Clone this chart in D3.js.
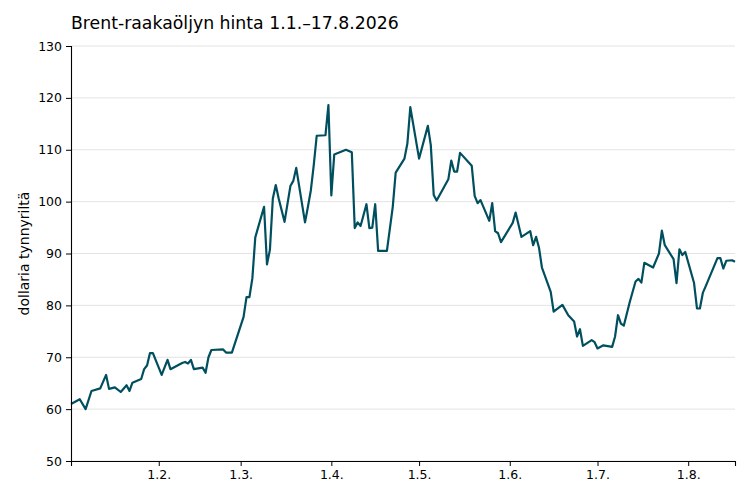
<!DOCTYPE html>
<html>
<head>
<meta charset="utf-8">
<script src="https://cdn.jsdelivr.net/npm/d3@7"></script>
<style>
  body { margin: 0; background: #fff; }
  svg { font-family: "DejaVu Sans", sans-serif; }
</style>
</head>
<body>
<div id="container"></div>
<script>
/* DATA */
const title = "Brent-raakaöljyn hinta 1.1.–17.8.2026";
const yLabel = "dollaria tynnyriltä";

const dates = [
  "2026-01-02","2026-01-05","2026-01-07","2026-01-09","2026-01-12","2026-01-14","2026-01-15","2026-01-17",
  "2026-01-19","2026-01-21","2026-01-22","2026-01-23","2026-01-26","2026-01-27","2026-01-28","2026-01-29",
  "2026-01-30","2026-02-02","2026-02-04","2026-02-05","2026-02-09","2026-02-10","2026-02-11","2026-02-12",
  "2026-02-13","2026-02-16","2026-02-17","2026-02-18","2026-02-19","2026-02-23","2026-02-24","2026-02-26",
  "2026-03-02","2026-03-03","2026-03-04","2026-03-05","2026-03-06","2026-03-09","2026-03-10","2026-03-11",
  "2026-03-12","2026-03-13","2026-03-14","2026-03-16","2026-03-18","2026-03-19","2026-03-20","2026-03-23",
  "2026-03-24","2026-03-25","2026-03-26","2026-03-27","2026-03-30","2026-03-31","2026-04-01","2026-04-02",
  "2026-04-06","2026-04-08","2026-04-09","2026-04-10","2026-04-11","2026-04-13","2026-04-14","2026-04-15",
  "2026-04-16","2026-04-17","2026-04-20","2026-04-22","2026-04-23","2026-04-26","2026-04-27","2026-04-28",
  "2026-05-01","2026-05-04","2026-05-05","2026-05-06","2026-05-07","2026-05-11","2026-05-12","2026-05-13",
  "2026-05-14","2026-05-15","2026-05-19","2026-05-20","2026-05-21","2026-05-22","2026-05-25","2026-05-26",
  "2026-05-27","2026-05-28","2026-05-29","2026-06-02","2026-06-03","2026-06-05","2026-06-08","2026-06-09",
  "2026-06-10","2026-06-11","2026-06-12","2026-06-15","2026-06-16","2026-06-19","2026-06-21","2026-06-23",
  "2026-06-24","2026-06-25","2026-06-26","2026-06-29","2026-06-30","2026-07-01","2026-07-03","2026-07-06",
  "2026-07-07","2026-07-08","2026-07-09","2026-07-10","2026-07-12","2026-07-14","2026-07-15","2026-07-16",
  "2026-07-17","2026-07-20","2026-07-22","2026-07-23","2026-07-24","2026-07-27","2026-07-28","2026-07-29",
  "2026-07-30","2026-07-31","2026-08-03","2026-08-04","2026-08-05","2026-08-06","2026-08-07","2026-08-11",
  "2026-08-12","2026-08-13","2026-08-14","2026-08-16","2026-08-17"
];

const prices = [
  61.0, 61.9, 60.0, 63.5, 64.0, 66.6, 63.9, 64.2,
  63.3, 64.6, 63.5, 65.1, 65.8, 67.7, 68.4, 70.8,
  70.8, 66.6, 69.5, 67.7, 68.9, 69.1, 68.8, 69.5,
  67.7, 68.0, 67.0, 70.0, 71.4, 71.5, 70.9, 70.9,
  77.8, 81.6, 81.6, 85.2, 93.1, 99.0, 87.9, 90.7,
  100.6, 103.2, 100.6, 96.1, 103.0, 104.0, 106.5, 96.0,
  99.0, 102.2, 107.1, 112.7, 112.8, 118.6, 101.2, 109.1,
  110.0, 109.5, 94.9, 96.0, 95.3, 99.5, 94.9, 95.0,
  99.5, 90.5, 90.5, 99.0, 105.6, 108.3, 111.2, 118.2,
  108.3, 114.6, 110.9, 101.3, 100.2, 104.3, 107.9, 105.8,
  105.8, 109.4, 106.9, 101.1, 99.7, 100.3, 96.3, 99.7,
  94.3, 93.9, 92.2, 95.9, 97.9, 93.2, 94.3, 91.6,
  93.2, 91.1, 87.3, 82.6, 78.8, 80.1, 78.1, 76.9,
  74.0, 75.4, 72.2, 73.3, 72.9, 71.7, 72.3, 72.0,
  74.0, 78.1, 76.5, 76.1, 80.6, 84.6, 85.1, 84.4,
  88.2, 87.3, 90.0, 94.4, 91.6, 88.9, 84.3, 90.8,
  89.7, 90.3, 84.3, 79.4, 79.4, 82.4, 83.7, 89.1,
  89.1, 87.1, 88.6, 88.7, 88.4
];

const xTickDates = ["2026-02-01","2026-03-01","2026-04-01","2026-05-01","2026-06-01","2026-07-01","2026-08-01"];
const xTickLabels = ["1.2.","1.3.","1.4.","1.5.","1.6.","1.7.","1.8."];
const yTicks = [50, 60, 70, 80, 90, 100, 110, 120, 130];

/* CONSTANTS */
const W = 750, H = 500;
const margin = { top: 46, right: 15, bottom: 39, left: 71 };
const width = W - margin.left - margin.right;
const height = H - margin.top - margin.bottom;

const parse = d3.timeParse("%Y-%m-%d");
const data = dates.map((d, i) => ({ date: parse(d), price: prices[i] }));

// scales
const xScale = d3.scaleTime()
  .domain(d3.extent(data, d => d.date))
  .range([0, width]);

const yScale = d3.scaleLinear()
  .domain([50, 130])
  .range([height, 0]);

const svg = d3.select("#container")
  .append("svg")
  .attr("width", W)
  .attr("height", H);

const g = svg.append("g")
  .attr("transform", `translate(${margin.left},${margin.top})`);

// gridlines
g.append("g")
  .selectAll("line")
  .data(yTicks)
  .join("line")
  .attr("x1", 0)
  .attr("x2", width)
  .attr("y1", d => yScale(d))
  .attr("y2", d => yScale(d))
  .attr("stroke", "#dcdcdc")
  .attr("stroke-width", 0.8);

// line
const line = d3.line()
  .x(d => xScale(d.date))
  .y(d => yScale(d.price));

g.append("path")
  .datum(data)
  .attr("fill", "none")
  .attr("stroke", "#004f5f")
  .attr("stroke-width", 2.2)
  .attr("stroke-linejoin", "round")
  .attr("d", line);

// x axis
const xAxis = g.append("g")
  .attr("transform", `translate(0,${height})`)
  .call(d3.axisBottom(xScale)
    .tickValues(xTickDates.map(parse))
    .tickFormat((d, i) => xTickLabels[i])
    .tickSizeOuter(0)
    .tickSize(5)
    .tickPadding(4));

// y axis
const yAxis = g.append("g")
  .call(d3.axisLeft(yScale)
    .tickValues(yTicks)
    .tickSizeOuter(0)
    .tickSize(5)
    .tickPadding(4));

[xAxis, yAxis].forEach(ax => {
  ax.selectAll("text")
    .attr("font-family", "DejaVu Sans")
    .attr("font-size", 12.5)
    .attr("fill", "#000");
  ax.selectAll("line").attr("stroke", "#000").attr("stroke-width", 1);
  ax.select(".domain").attr("stroke", "#000").attr("stroke-width", 1.1);
});

// y label
svg.append("text")
  .attr("transform", `translate(28.5,${margin.top + height / 2}) rotate(-90)`)
  .attr("text-anchor", "middle")
  .attr("font-size", 14)
  .attr("fill", "#000")
  .text(yLabel);

// title
svg.append("text")
  .attr("x", margin.left)
  .attr("y", 29)
  .attr("font-size", 17.3)
  .attr("fill", "#000")
  .text(title);
</script>
</body>
</html>
